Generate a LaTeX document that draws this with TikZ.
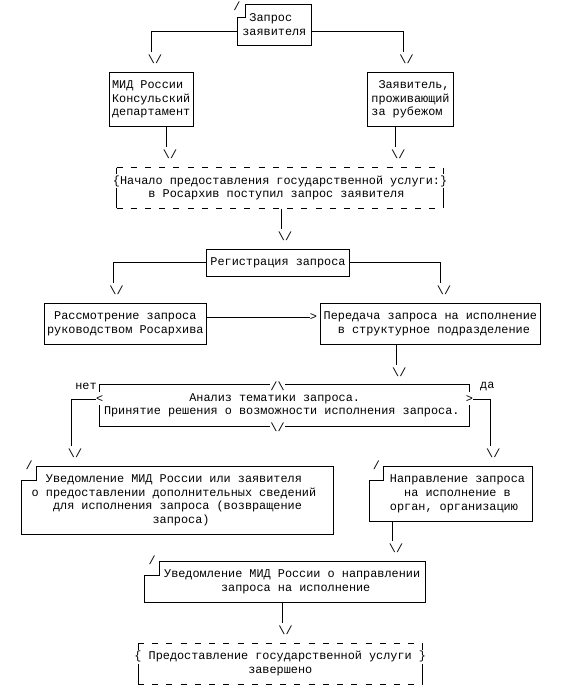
\documentclass[tikz,border=0pt]{standalone}
\usepackage{fontspec}
\setmonofont{Liberation Mono}
\newlength\cw
\setlength\cw{7.111pt}
\newcommand\ind[1]{\hspace*{#1\cw}}
\newcommand\monofnt{\ttfamily\fontsize{11.85pt}{13.59pt}\selectfont}
\begin{document}
\begin{tikzpicture}[x=1pt,y=-1pt,
  txt/.style={inner sep=0pt,font=\monofnt,text=black},
  nbox/.style={txt,align=left},
  box/.style={nbox,draw,line width=0.8pt},
  conn/.style={line width=0.8pt},
  dashline/.style={line width=0.8pt,dash pattern=on 6pt off 8.22pt},
  tipv/.style={txt}]
\useasboundingbox (0,0) rectangle (562,700);

% ---------- boxes ----------
\node[nbox,minimum width=72.7pt,minimum height=40.77pt] (A) at (274.35,24.89) {\ind{1}Запрос\\заявителя};
\node[txt] (sA) at (237,5.8) {/};
\draw[conn] ([xshift=7.5pt]A.north west) -- (A.north east) -- (A.south east) -- (A.south west)
  -- ([yshift=-13.59pt]A.north west) -- ([xshift=7.5pt,yshift=-13.59pt]A.north west) -- cycle;

\node[box,minimum width=84.3pt,minimum height=54.36pt] (B) at (151.15,99.63) {МИД России\\Консульский\\департамент};
\node[box,minimum width=85.6pt,minimum height=54.36pt] (C) at (410.5,99.63) {\ind{1}Заявитель,\\проживающий\\за рубежом};

\node[nbox,minimum width=327pt,minimum height=40.77pt] (D) at (280.05,187.97) {\{Начало предоставления государственной услуги:\}\\\ind{5}в Росархив поступил запрос заявителя};
\draw[dashline] (116.5,167.58) -- (443.55,167.58);
\draw[dashline] (116.5,208.35) -- (443.55,208.35);
\draw[conn] (116.5,167.58) -- (116.5,174.4);
\draw[conn] (443.55,167.58) -- (443.55,174.4);
\draw[conn] (116.5,187.97) -- (116.5,208.35);
\draw[conn] (443.55,187.97) -- (443.55,208.35);

\node[box,minimum width=142.6pt,minimum height=27.18pt] (E) at (278,262.71) {Регистрация запроса};

\node[box,minimum width=162.7pt,minimum height=40.77pt] (F) at (125.35,323.87) {\ind{1}Рассмотрение запроса\\руководством Росархива};
\node[box,minimum width=219.3pt,minimum height=40.77pt] (G) at (430.35,323.87) {Передача запроса на исполнение\\\ind{2}в структурное подразделение};
\node[txt] (gtF) at (313.5,317.07) {>};

% decision
\node[nbox,minimum width=369.75pt,minimum height=40.77pt] (H) at (284.6,405.4) {\ind{12}Анализ тематики запроса.\\Принятие решения о возможности исполнения запроса.\rule{5.6pt}{0pt}};
\node[txt] (Htop) at (277.5,386) {/\textbackslash};
\node[txt] (Hbot) at (277.5,426.8) {\textbackslash/};
\node[txt] (Hl) at (99.75,398.9) {<};
\node[txt] (Hr) at (469.5,398.9) {>};
\draw[conn] ([yshift=-6.8pt]H.north west) -- (H.north west) -- (Htop.west |- H.north);
\draw[conn] (Htop.east |- H.north) -- (H.north east) -- ([yshift=-6.8pt]H.north east);
\draw[conn] (H.west) -- (H.south west) -- (Hbot.west |- H.south);
\draw[conn] (Hbot.east |- H.south) -- (H.south east) -- (H.east);
\node[txt] (no) at (86,386) {нет};
\node[txt] (yes) at (487.3,386) {да};

\node[nbox,minimum width=311.6pt,minimum height=67.95pt] (I) at (177.5,500.5) {\ind{2}Уведомление МИД России или заявителя\\о предоставлении дополнительных сведений\rule{\cw}{0pt}\\\ind{3}для исполнения запроса (возвращение\\\ind{17}запроса)};
\node[txt] (sI) at (29.2,465.5) {/};
\draw[conn] ([xshift=15pt]I.north west) -- (I.north east) -- (I.south east) -- (I.south west)
  -- ([yshift=-13.59pt]I.north west) -- ([xshift=15pt,yshift=-13.59pt]I.north west) -- cycle;

\node[nbox,minimum width=148.4pt,minimum height=54.36pt] (J) at (457.5,493.74) {Направление запроса\\\ind{2}на исполнение в\\орган, организацию};
\node[txt] (sJ) at (376.3,465.5) {/};
\draw[conn] (J.north west) -- (J.north east) -- (J.south east) -- ([xshift=-14pt]J.south west)
  -- ([xshift=-14pt,yshift=-13.59pt]J.north west) -- ([yshift=-13.59pt]J.north west) -- cycle;

\node[nbox,minimum width=265.7pt,minimum height=40.77pt] (K) at (292.15,582.08) {Уведомление МИД России о направлении\\\ind{8}запроса на исполнение};
\node[txt] (sK) at (152.2,560.7) {/};
\draw[conn] (K.north west) -- (K.north east) -- (K.south east) -- ([xshift=-14.3pt]K.south west)
  -- ([xshift=-14.3pt,yshift=-13.59pt]K.north west) -- ([yshift=-13.59pt]K.north west) -- cycle;

\node[nbox,minimum width=284.5pt,minimum height=40.77pt] (Lend) at (280.25,663.6) {\{ Предоставление государственной услуги \}\\\ind{16}завершено};
\draw[dashline] (138,643.23) -- (422.5,643.23);
\draw[dashline] (138,684) -- (422.5,684);
\draw[conn] (138,643.23) -- (138,650.0);
\draw[conn] (422.5,643.23) -- (422.5,650.0);
\draw[conn] (138,663.6) -- (138,684);
\draw[conn] (422.5,663.6) -- (422.5,684);

% ---------- connector ends ----------
\coordinate (c1) at (151.7,52.06);
\coordinate (c2) at (403.3,52.06);
\coordinate (c3) at (166.7,147.2);
\coordinate (c4) at (395,147.2);
\coordinate (c5) at (281.7,228.7);
\coordinate (c6) at (113.3,283.1);
\coordinate (c7) at (440.7,283.1);
\coordinate (c8) at (396,364.6);
\coordinate (c9) at (71.7,446.2);
\coordinate (c10) at (490,446.2);
\coordinate (c11) at (392.7,541.3);
\coordinate (c12) at (282.3,622.8);

\node[tipv] (t1) at (155,59.4) {\textbackslash/};
\node[tipv] (t2) at (406.6,59.4) {\textbackslash/};
\node[tipv] (t3) at (170,154.5) {\textbackslash/};
\node[tipv] (t4) at (398.3,154.5) {\textbackslash/};
\node[tipv] (t5) at (285,236) {\textbackslash/};
\node[tipv] (t6) at (116.6,290.4) {\textbackslash/};
\node[tipv] (t7) at (444,290.4) {\textbackslash/};
\node[tipv] (t8) at (399.3,371.9) {\textbackslash/};
\node[tipv] (t9) at (75,453.5) {\textbackslash/};
\node[tipv] (t10) at (493.3,453.5) {\textbackslash/};
\node[tipv] (t11) at (396,548.6) {\textbackslash/};
\node[tipv] (t12) at (285.6,630.1) {\textbackslash/};

% ---------- connectors ----------
\draw[conn] ([yshift=-6.79pt]A.west) -| (c1);
\draw[conn] ([yshift=-6.79pt]A.east) -| (c2);
\draw[conn] (B.south -| c3) -- (c3);
\draw[conn] (C.south -| c4) -- (c4);
\draw[conn] (D.south -| c5) -- (c5);
\draw[conn] (E.west) -| (c6);
\draw[conn] (E.east) -| (c7);
\draw[conn] (F.east |- gtF.west) -- (gtF.west);
\draw[conn] (G.south -| c8) -- (c8);
\draw[conn] (Hl.west) -| (c9);
\draw[conn] (Hr.east) -| (c10);
\draw[conn] (J.south -| c11) -- (c11);
\draw[conn] (K.south -| c12) -- (c12);
\end{tikzpicture}
\end{document}
